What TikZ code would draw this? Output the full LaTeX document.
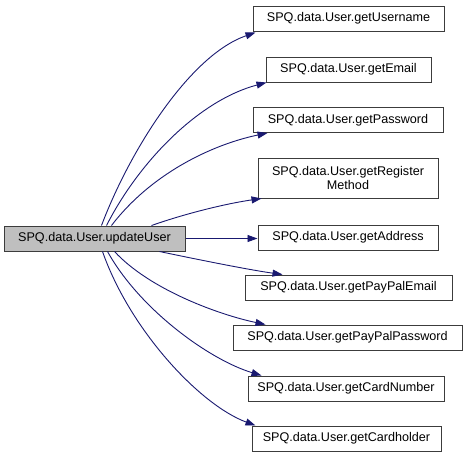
\documentclass[tikz,border=0pt]{standalone}
\usepackage{fontspec}
\setmainfont{Liberation Sans}
\usetikzlibrary{arrows.meta}
\definecolor{edgeblue}{RGB}{25,25,112}
\definecolor{boxgray}{RGB}{191,191,191}
\definecolor{boxline}{RGB}{60,60,60}
\begin{document}
\begin{tikzpicture}[x=1pt,y=-1pt,
  fn/.style={draw=boxline,line width=1pt,fill=white,inner sep=0pt,
    minimum height=25pt,align=center,font=\fontsize{12.6}{13.5}\selectfont},
  cur/.style={fn,fill=boxgray},
  call/.style={draw=edgeblue,line width=0.9pt,-{Triangle[length=10pt,width=7pt]}}]
\useasboundingbox (0,0) rectangle (469,459);
\node[cur,minimum width=181pt] (main) at (94.5,238.5) {SPQ.data.User.updateUser};
\node[fn,minimum width=191pt] (n1) at (348.5,18.5) {SPQ.data.User.getUsername};
\node[fn,minimum width=165pt] (n2) at (348.5,69.5) {SPQ.data.User.getEmail};
\node[fn,minimum width=190pt] (n3) at (348,120) {SPQ.data.User.getPassword};
\node[fn,minimum width=180pt,minimum height=40pt] (n4) at (348,178) {SPQ.data.User.getRegister\\Method};
\node[fn,minimum width=180pt] (n5) at (348,237.5) {SPQ.data.User.getAddress};
\node[fn,minimum width=207pt] (n6) at (348.5,287.5) {SPQ.data.User.getPayPalEmail};
\node[fn,minimum width=229pt] (n7) at (347.5,337.5) {SPQ.data.User.getPayPalPassword};
\node[fn,minimum width=196pt] (n8) at (346,388.5) {SPQ.data.User.getCardNumber};
\node[fn,minimum width=189pt] (n9) at (346.5,438.5) {SPQ.data.User.getCardholder};

\draw[call] ([xshift=98pt]main.north west) .. controls (130,150) and (190,55) .. ([xshift=3pt,yshift=-1pt]n1.south west);
\draw[call] ([xshift=103pt]main.north west) .. controls (140,160) and (200,100) .. ([xshift=1pt]n2.south west);
\draw[call] ([xshift=108pt]main.north west) .. controls (150,175) and (210,145) .. ([xshift=15pt]n3.south west);
\draw[call] ([xshift=148pt]main.north west) .. controls (190,212) and (230,203) .. ([xshift=4pt]n4.south west);
\draw[call] (main.east) -- (main.east -| n5.west);
\draw[call] ([xshift=156pt]main.south west) .. controls (200,260) and (250,270) .. ([xshift=38pt]n6.north west);
\draw[call] ([xshift=111pt]main.south west) .. controls (150,290) and (220,315) .. ([xshift=33pt]n7.north west);
\draw[call] ([xshift=104pt]main.south west) .. controls (140,310) and (210,360) .. ([xshift=14pt]n8.north west);
\draw[call] ([xshift=99pt]main.south west) .. controls (130,330) and (200,405) .. ([xshift=4pt]n9.north west);
\end{tikzpicture}
\end{document}
